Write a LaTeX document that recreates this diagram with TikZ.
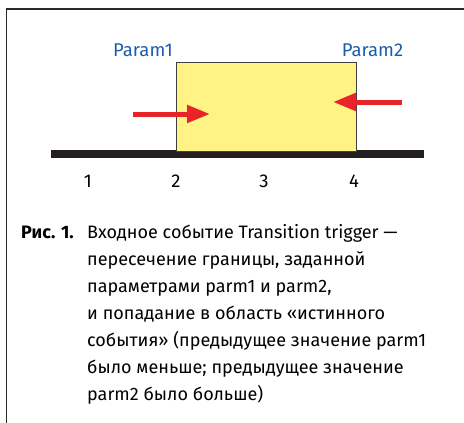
\documentclass[tikz,border=0pt]{standalone}
\usepackage{fontspec}
\setmainfont{Fira Sans}
\usetikzlibrary{arrows.meta}
\definecolor{zoneyellow}{HTML}{FFF385}
\definecolor{arrowred}{HTML}{E8232A}
\definecolor{labelblue}{HTML}{1D5DA8}
\definecolor{barblack}{HTML}{231F20}
\definecolor{framegray}{HTML}{2A2A2A}
\tikzset{
  frameline/.style={draw=framegray, line width=1.6pt},
  zonebox/.style={draw=black!75, line width=0.8pt, fill=zoneyellow, rectangle, inner sep=0pt},
  axisbar/.style={fill=barblack, rectangle, inner sep=0pt, minimum height=7.5pt},
  pushline/.style={draw=arrowred, line width=5pt, -{Triangle[length=23pt, width=17pt]}},
  paramlabel/.style={text=labelblue, font=\fontsize{18.5}{22}\selectfont, inner sep=0pt},
  ticklabel/.style={font=\fontsize{18.5}{22}\selectfont, inner sep=0pt},
  captionline/.style={anchor=base west, inner sep=0pt, font=\fontsize{18}{27}\selectfont}
}
\begin{document}
\begin{tikzpicture}[x=1pt, y=-1pt]
  \useasboundingbox (0,0) rectangle (464,423);
  % open frame: left and top edges
  \draw[frameline] (6.5,423) -- (6.5,9) -- (464,9);

  % axis bar and the interval between the two parameters
  \node[axisbar, minimum width=373pt] (axis) at (237.5,154) {};
  \node[zonebox, minimum width=180pt, minimum height=89pt] (zone) at (266,106.5) {};

  % parameter labels
  \node[paramlabel] (p1) at (143,50) {Param1};
  \node[paramlabel] (p2) at (372.5,50) {Param2};

  % crossing directions
  \coordinate (inL) at (133,114);
  \coordinate (inLtip) at (210,114);
  \coordinate (inR) at (402,102);
  \coordinate (inRtip) at (333,102);
  \draw[pushline] (inL) -- (inLtip);
  \draw[pushline] (inR) -- (inRtip);

  % region numbers
  \node[ticklabel] (n1) at (88,181) {1};
  \node[ticklabel] (n2) at (176,181) {2};
  \node[ticklabel] (n3) at (264,181) {3};
  \node[ticklabel] (n4) at (354,181) {4};

  % caption
  \node[captionline] (cap0) at (21,238) {\bfseries Рис. 1.};
  \node[captionline] (cap1) at (87,238) {Входное событие Transition trigger —};
  \node[captionline] (cap2) at (87,265) {пересечение границы, заданной};
  \node[captionline] (cap3) at (87,292) {параметрами parm1 и parm2,};
  \node[captionline] (cap4) at (87,319) {и попадание в область «истинного};
  \node[captionline] (cap5) at (87,346) {события» (предыдущее значение parm1};
  \node[captionline] (cap6) at (87,373) {было меньше; предыдущее значение};
  \node[captionline] (cap7) at (87,400) {parm2 было больше)};
\end{tikzpicture}
\end{document}
